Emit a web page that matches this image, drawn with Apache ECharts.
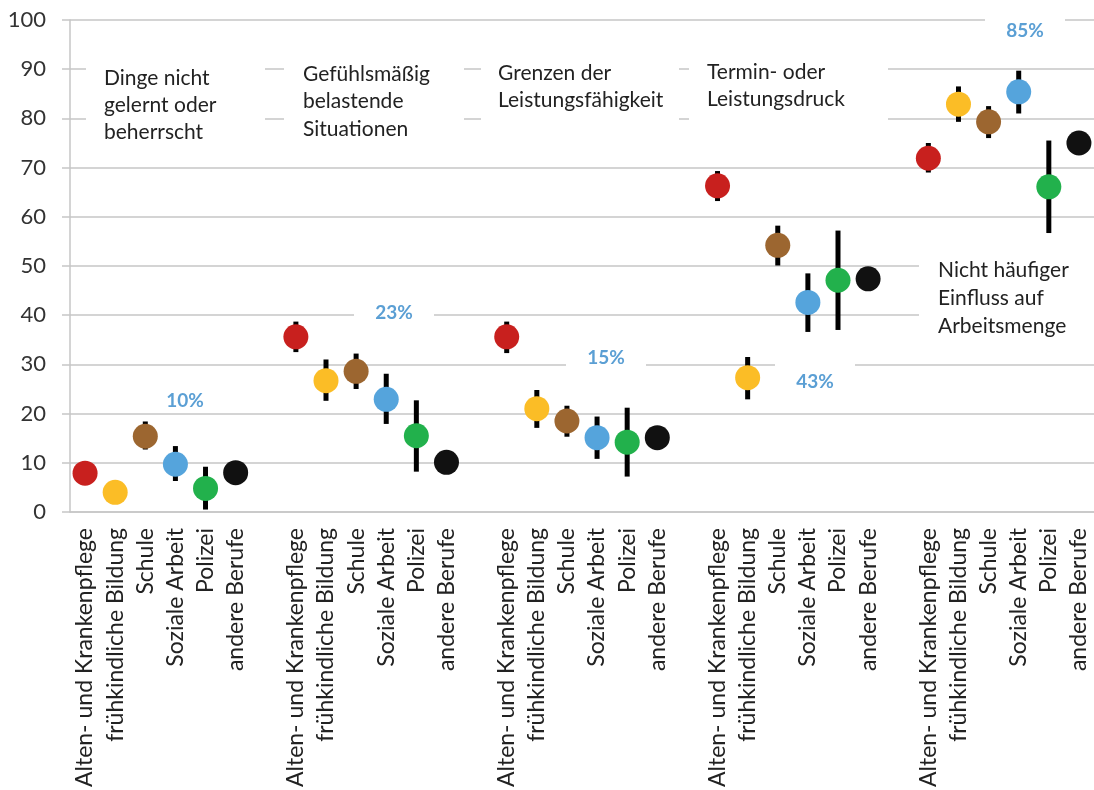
<!DOCTYPE html>
<html>
<head>
<meta charset="utf-8">
<script src="https://cdn.jsdelivr.net/npm/echarts@6/dist/echarts.min.js"></script>
<style>html,body{margin:0;padding:0;background:#fff}#c{width:1094px;height:790px}</style>
</head>
<body>
<div id="c"></div>
<script>
// ---- data ----
const professions = ['Alten- und Krankenpflege', 'frühkindliche Bildung', 'Schule', 'Soziale Arbeit', 'Polizei', 'andere Berufe'];
const groups = ['Dinge nicht gelernt oder beherrscht', 'Gefühlsmäßig belastende Situationen', 'Grenzen der Leistungsfähigkeit', 'Termin- oder Leistungsdruck', 'Nicht häufiger Einfluss auf Arbeitsmenge'];
const groupTexts = ['Dinge nicht\ngelernt oder\nbeherrscht', 'Gefühlsmäßig\nbelastende\nSituationen', 'Grenzen der\nLeistungsfähigkeit', 'Termin- oder\nLeistungsdruck', 'Nicht häufiger\nEinfluss auf\nArbeitsmenge'];
const groupPercents = ['10%', '23%', '15%', '43%', '85%'];
const yTicks = [0, 10, 20, 30, 40, 50, 60, 70, 80, 90, 100];

const altenMean = [7.9, 35.6, 35.6, 66.3, 71.9];
const altenLow  = [5.8, 32.5, 32.3, 63.2, 69.0];
const altenHigh = [10.0, 38.7, 38.7, 69.3, 75.0];

const fruehMean = [4.0, 26.7, 21.0, 27.3, 82.9];
const fruehLow  = [2.2, 22.6, 17.1, 22.9, 79.3];
const fruehHigh = [5.8, 31.0, 24.8, 31.5, 86.5];

const schuleMean = [15.4, 28.6, 18.5, 54.2, 79.3];
const schuleLow  = [12.7, 25.0, 15.3, 50.1, 76.0];
const schuleHigh = [18.4, 32.2, 21.6, 58.2, 82.5];

const sozialMean = [9.7, 22.9, 15.1, 42.6, 85.4];
const sozialLow  = [6.3, 17.9, 10.8, 36.6, 81.0];
const sozialHigh = [13.4, 28.1, 19.4, 48.5, 89.7];

const polizeiMean = [4.8, 15.5, 14.2, 47.1, 66.1];
const polizeiLow  = [0.5, 8.2, 7.2, 37.0, 56.7];
const polizeiHigh = [9.2, 22.7, 21.2, 57.2, 75.5];

const andereMean = [8.0, 10.1, 15.1, 47.4, 75.0];
const andereLow  = [6.2, 8.3, 13.3, 45.6, 73.2];
const andereHigh = [9.8, 11.9, 16.9, 49.2, 76.8];

// ---- build ----
const means = [altenMean, fruehMean, schuleMean, sozialMean, polizeiMean, andereMean];
const lows = [altenLow, fruehLow, schuleLow, sozialLow, polizeiLow, andereLow];
const highs = [altenHigh, fruehHigh, schuleHigh, sozialHigh, polizeiHigh, andereHigh];
const colors = ['#c8201e', '#fbbd26', '#9c6630', '#55a4dc', '#22b14c', '#111111'];

const slots = groups.length * (professions.length + 1) - 1;
const catKeys = [], catLabels = [];
for (let i = 0; i < slots; i++) {
  const p = i % (professions.length + 1);
  catKeys.push('c' + i);
  catLabels.push(p < professions.length ? professions[p] : '');
}
const idx = (g, p) => g * (professions.length + 1) + p;

const errData = [];
for (let g = 0; g < groups.length; g++)
  for (let p = 0; p < professions.length; p++)
    errData.push([idx(g, p), lows[p][g], highs[p][g]]);

const FONT = 'Lato, "Open Sans", sans-serif';
const GRID = '#c6c6c6';

const series = [{
  type: 'custom',
  z: 10,
  data: errData,
  encode: { x: 0, y: [1, 2] },
  renderItem: function (params, api) {
    const x = api.value(0);
    const a = api.coord([x, api.value(1)]);
    const b = api.coord([x, api.value(2)]);
    const w = 5;
    return { type: 'rect', shape: { x: a[0] - w / 2, y: b[1], width: w, height: a[1] - b[1] }, style: { fill: '#000' } };
  },
  silent: true
}];
professions.forEach((name, p) => {
  series.push({
    name: name,
    type: 'scatter',
    z: 20,
    symbol: 'circle',
    symbolSize: 25,
    itemStyle: { color: colors[p], opacity: 1 },
    data: groups.map((g, gi) => [idx(gi, p), means[p][gi]])
  });
});

// annotation layout (pixels)
const boxes = [
  { x: 86, y: 45, w: 179, h: 105, tx: 104, ty: 78, lh: 27 },
  { x: 284, y: 45, w: 180, h: 105, tx: 303, ty: 74, lh: 27.5 },
  { x: 481, y: 45, w: 198, h: 105, tx: 498, ty: 73, lh: 27 },
  { x: 689, y: 45, w: 199, h: 105, tx: 707, ty: 72, lh: 27 },
  { x: 919, y: 240, w: 180, h: 105, tx: 938, ty: 270, lh: 28 }
];
const pctPos = [[185, 401], [394, 313], [606, 358], [815, 382], [1025, 31]];

const graphic = [];
boxes.forEach((b, i) => {
  graphic.push({ type: 'rect', z: 5, shape: { x: b.x, y: b.y, width: b.w, height: b.h }, style: { fill: '#fff' }, silent: true });
  graphic.push({ type: 'text', z: 6, x: b.tx, y: b.ty - b.lh / 2, style: { text: groupTexts[i], fontSize: 21, fontFamily: FONT, fill: '#222', lineHeight: b.lh, verticalAlign: 'top', align: 'left' }, silent: true });
});
pctPos.forEach((pp, i) => {
  graphic.push({ type: 'rect', z: 5, shape: { x: pp[0] - 40, y: pp[1] - 22, width: 80, height: 32 }, style: { fill: '#fff' }, silent: true });
  graphic.push({ type: 'text', z: 6, x: pp[0], y: pp[1], style: { text: groupPercents[i], fontSize: 19, fontWeight: 'bold', fontFamily: FONT, fill: '#5b9fd4', align: 'center', verticalAlign: 'middle' }, silent: true });
});

const chart = echarts.init(document.getElementById('c'), null, { renderer: 'canvas' });
chart.setOption({
  animation: false,
  backgroundColor: '#fff',
  grid: { left: 70, right: 0, top: 20, bottom: 277, containLabel: false },
  xAxis: {
    type: 'category',
    data: catKeys,
    boundaryGap: true,
    axisLine: { show: true, lineStyle: { color: GRID, width: 1.5 } },
    axisTick: { show: false },
    splitLine: { show: false },
    axisLabel: {
      interval: 0, rotate: 90, margin: 16,
      fontSize: 23, fontFamily: FONT, color: '#222',
      formatter: function (v, i) { return catLabels[i]; }
    }
  },
  yAxis: {
    type: 'value', min: yTicks[0], max: yTicks[yTicks.length - 1], interval: 10,
    axisLine: { show: true, lineStyle: { color: GRID, width: 1.5 } },
    axisTick: { show: true, length: 8, lineStyle: { color: GRID, width: 1.5 } },
    splitLine: { show: true, lineStyle: { color: GRID, width: 1.5 } },
    axisLabel: { margin: 24, fontSize: 22, fontFamily: FONT, color: '#333' }
  },
  series: series,
  graphic: graphic
});
</script>
</body>
</html>
